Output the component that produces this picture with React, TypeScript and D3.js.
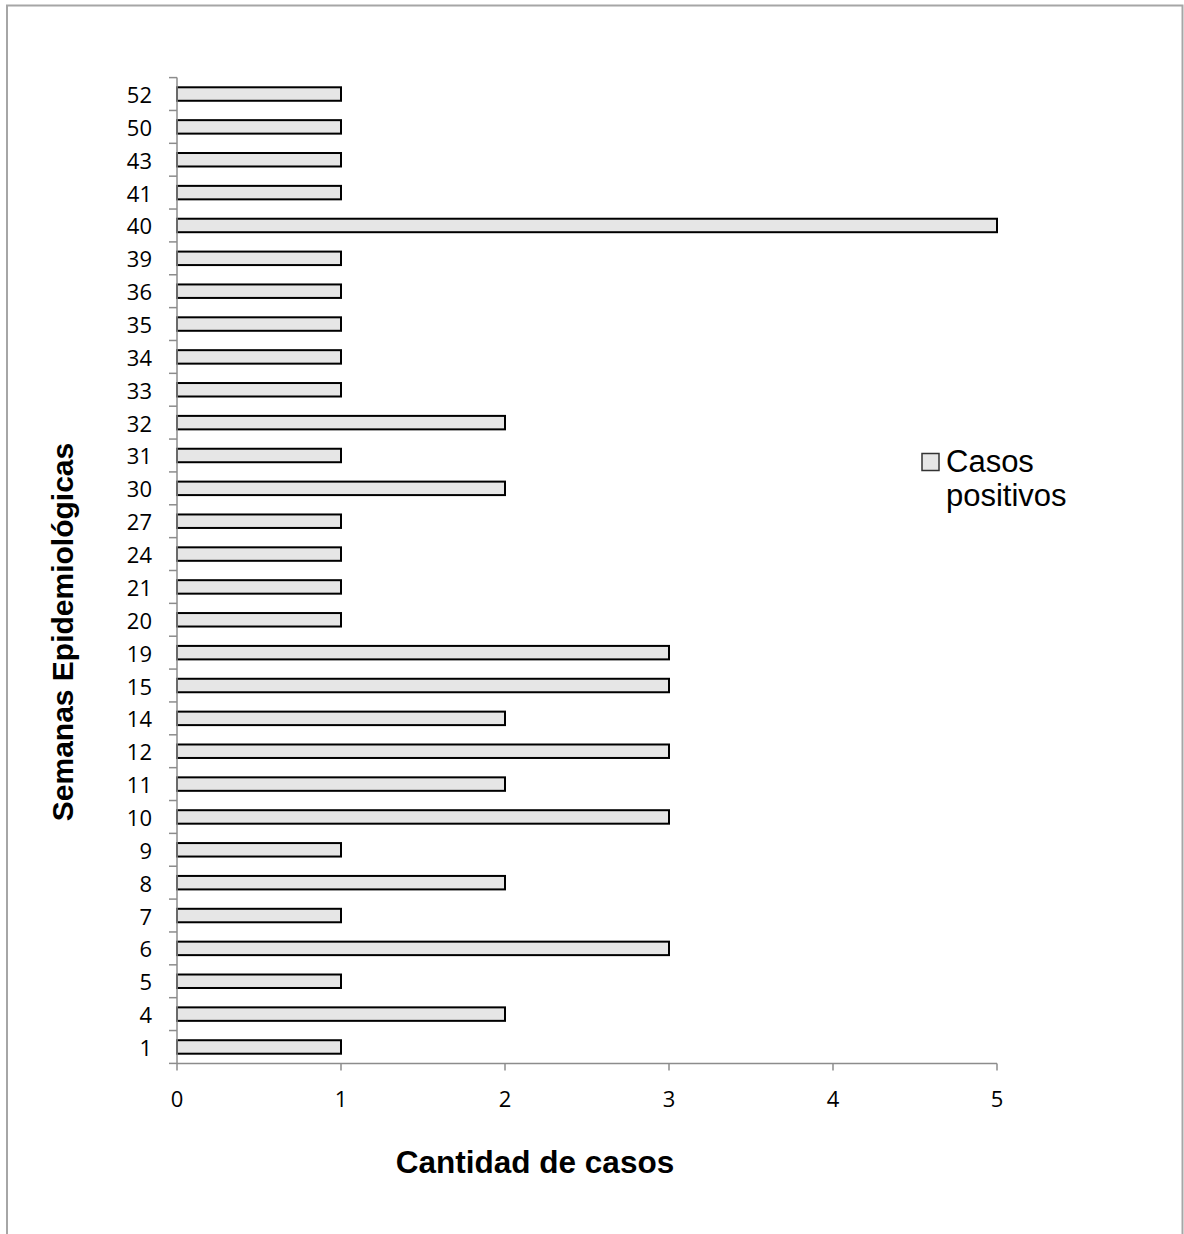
import React from "react";
import * as d3 from "d3";

// Epidemiological weeks (bottom to top) and positive cases per week
const weeks: string[] = [
  "1", "4", "5", "6", "7", "8", "9", "10", "11", "12", "14", "15", "19", "20", "21",
  "24", "27", "30", "31", "32", "33", "34", "35", "36", "39", "40", "41", "43", "50", "52",
];
const cases: number[] = [
  1, 2, 1, 3, 1, 2, 1, 3, 2, 3, 2, 3, 3, 1, 1,
  1, 1, 2, 1, 2, 1, 1, 1, 1, 1, 5, 1, 1, 1, 1,
];
const xTicks: number[] = [0, 1, 2, 3, 4, 5];
const seriesName = ["Casos", "positivos"];
const xTitle = "Cantidad de casos";
const yTitle = "Semanas Epidemiológicas";

const W = 1184;
const H = 1234;
const left = 177;
const right = 997;
const top = 77.6;
const bottom = 1063.4;

export default function App() {
  const x = d3.scaleLinear().domain([0, 5]).range([left, right]);
  // first week at the bottom
  const order = [...weeks].reverse();
  const y = d3
    .scaleBand<string>()
    .domain(order)
    .range([top, bottom])
    .paddingInner(0.59)
    .paddingOuter(0.295);
  const step = y.step();
  const boundaries = order.map((_, i) => top + i * step);
  boundaries.push(bottom);

  const axisColor = "#8c8c8c";
  const tickFont = "'Open Sans', Calibri, sans-serif";
  const titleFont = "'Liberation Sans', Arial, sans-serif";

  return (
    <svg
      width={W}
      height={H}
      style={{ position: "absolute", left: 0, top: 0, background: "#fff" }}
    >
      <rect x={7} y={5.5} width={1175.5} height={1260} fill="#fff" stroke="#a6a6a6" strokeWidth={2} />

      {/* bars */}
      {weeks.map((w, i) => (
        <rect
          key={w}
          x={x(0)}
          y={y(w)!}
          width={x(cases[i]) - x(0)}
          height={y.bandwidth()}
          fill="#e6e6e6"
          stroke="#000"
          strokeWidth={2}
        />
      ))}

      {/* y axis */}
      <line x1={left} x2={left} y1={top} y2={bottom} stroke={axisColor} strokeWidth={1.5} />
      {boundaries.map((b, i) => (
        <line key={i} x1={left - 8} x2={left} y1={b} y2={b} stroke={axisColor} strokeWidth={1.5} />
      ))}
      {weeks.map((w) => (
        <text
          key={w}
          x={152}
          y={y(w)! + y.bandwidth() / 2}
          textAnchor="end"
          dominantBaseline="central"
          fontFamily={tickFont}
          fontSize={22}
          fill="#000"
        >
          {w}
        </text>
      ))}

      {/* x axis */}
      <line x1={left} x2={right} y1={bottom} y2={bottom} stroke={axisColor} strokeWidth={1.5} />
      {xTicks.map((t) => (
        <g key={t}>
          <line x1={x(t)} x2={x(t)} y1={bottom} y2={bottom + 7} stroke={axisColor} strokeWidth={1.5} />
          <text
            x={x(t)}
            y={1098}
            textAnchor="middle"
            dominantBaseline="central"
            fontFamily={tickFont}
            fontSize={22}
            fill="#000"
          >
            {t}
          </text>
        </g>
      ))}

      {/* axis titles */}
      <text
        x={535}
        y={1173}
        textAnchor="middle"
        fontFamily={titleFont}
        fontWeight="bold"
        fontSize={31.5}
        fill="#000"
      >
        {xTitle}
      </text>
      <text
        transform={`translate(73,632) rotate(-90)`}
        textAnchor="middle"
        fontFamily={titleFont}
        fontWeight="bold"
        fontSize={30}
        fill="#000"
      >
        {yTitle}
      </text>

      {/* legend */}
      <rect x={922} y={453.5} width={17} height={17} fill="#e6e6e6" stroke="#333" strokeWidth={1.5} />
      <text x={946} y={471.5} fontFamily={titleFont} fontSize={31} fill="#000">
        {seriesName[0]}
      </text>
      <text x={946} y={506} fontFamily={titleFont} fontSize={31} fill="#000">
        {seriesName[1]}
      </text>
    </svg>
  );
}
